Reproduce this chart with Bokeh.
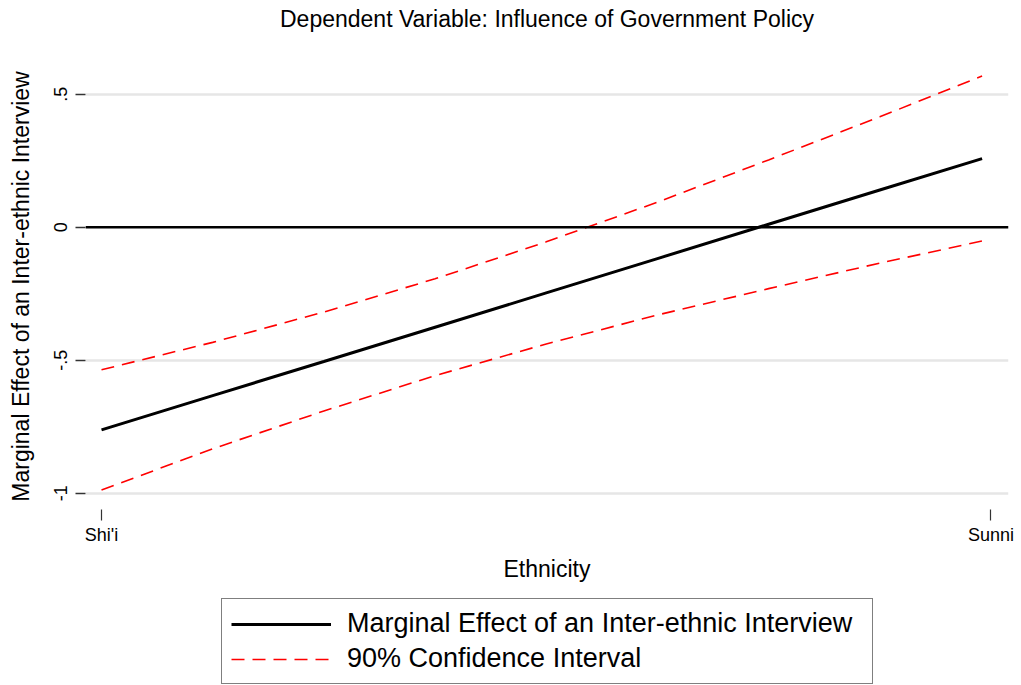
from bokeh.plotting import figure
from bokeh.models import Range1d, FixedTicker, Span, Legend, LegendItem, Title
from bokeh.layouts import column
from bokeh.embed import file_html
from bokeh.resources import INLINE

# ---- data ----
ethnicity = [0.0, 0.125, 0.25, 0.375, 0.5, 0.625, 0.75, 0.875, 0.99]
marginal_effect = [-0.762, -0.633, -0.505, -0.376, -0.247, -0.118, 0.011, 0.140, 0.258]
ci_upper = [-0.536, -0.433, -0.319, -0.194, -0.055, 0.094, 0.253, 0.415, 0.568]
ci_lower = [-0.988, -0.833, -0.691, -0.558, -0.439, -0.330, -0.231, -0.135, -0.052]
x_ticks = [0, 1]
x_tick_labels = ["Shi'i", "Sunni"]
y_ticks = [-1, -0.5, 0, 0.5]
y_tick_labels = ["-1", "-.5", "0", ".5"]
grid_ticks = [-1, -0.5, 0.5]
legend_labels = ["Marginal Effect of an Inter-ethnic Interview", "90% Confidence Interval"]

FONT = "Liberation Sans"
ME_STYLE = dict(line_color="black", line_width=3)
CI_STYLE = dict(line_color="#ff0000", line_width=1.6, line_dash="13 8")

p = figure(frame_width=923, frame_height=446,
           min_border_left=85, min_border_right=13, min_border_top=63, min_border_bottom=83,
           x_range=Range1d(-0.018, 1.0197), y_range=Range1d(-1.0613, 0.6154),
           output_backend="svg", toolbar_location=None,
           background_fill_color="white", border_fill_color="white")
p.outline_line_color = None

# spacer between frame and title (pushes the title up)
p.add_layout(Title(text=" ", text_font_size="1px", standoff=27), "above")

# title
p.title.text = "Dependent Variable: Influence of Government Policy"
p.title.align = "center"
p.title.text_font = FONT
p.title.text_font_size = "23px"
p.title.text_font_style = "normal"
p.title.text_color = "black"
p.title.standoff = 4

# x axis
xa = p.xaxis[0]
xa.ticker = FixedTicker(ticks=x_ticks)
xa.major_label_overrides = {t: l for t, l in zip(x_ticks, x_tick_labels)}
xa.axis_line_color = None
xa.minor_tick_line_color = None
xa.major_tick_in = 0
xa.major_tick_out = 11
xa.major_tick_line_color = "#333333"
xa.major_tick_line_width = 1.2
xa.major_label_text_font = FONT
xa.major_label_text_font_size = "18px"
xa.major_label_text_color = "black"
xa.major_label_standoff = 4
xa.axis_label = "Ethnicity"
xa.axis_label_text_font = FONT
xa.axis_label_text_font_size = "23px"
xa.axis_label_text_font_style = "normal"
xa.axis_label_text_color = "black"
xa.axis_label_standoff = 8

# y axis
ya = p.yaxis[0]
ya.ticker = FixedTicker(ticks=y_ticks)
ya.major_label_overrides = {t: l for t, l in zip(y_ticks, y_tick_labels)}
ya.major_label_orientation = "vertical"
ya.axis_line_color = None
ya.minor_tick_line_color = None
ya.major_tick_in = 0
ya.major_tick_out = 10
ya.major_tick_line_color = "#333333"
ya.major_tick_line_width = 1.5
ya.major_label_text_font = FONT
ya.major_label_text_font_size = "18px"
ya.major_label_text_color = "black"
ya.major_label_standoff = 8
ya.axis_label = "Marginal Effect of an Inter-ethnic Interview"
ya.axis_label_text_font = FONT
ya.axis_label_text_font_size = "23px"
ya.axis_label_text_font_style = "normal"
ya.axis_label_text_color = "black"
ya.axis_label_standoff = 18

# grid
p.xgrid.visible = False
p.ygrid.ticker = FixedTicker(ticks=grid_ticks)
p.ygrid.grid_line_color = "#e6e6e6"
p.ygrid.grid_line_width = 2.5

# zero line
p.add_layout(Span(location=0, dimension="width", line_color="black", line_width=2.5))

# lines
p.line(ethnicity, marginal_effect, **ME_STYLE)
p.line(ethnicity, ci_upper, **CI_STYLE)
p.line(ethnicity, ci_lower, **CI_STYLE)

# ---- legend strip (second figure below the plot) ----
lg = figure(frame_width=923, frame_height=93,
            min_border_left=85, min_border_right=13, min_border_top=0, min_border_bottom=0,
            x_range=Range1d(0, 1), y_range=Range1d(0, 1),
            output_backend="svg", toolbar_location=None,
            background_fill_color="white", border_fill_color="white")
lg.outline_line_color = None
lg.axis.visible = False
lg.grid.visible = False
lr_me = lg.line([0, 1], [-5, -5], **ME_STYLE)
lr_ci = lg.line([0, 1], [-5, -5], **CI_STYLE)

legend = Legend(items=[
    LegendItem(label=legend_labels[0], renderers=[lr_me]),
    LegendItem(label=legend_labels[1], renderers=[lr_ci]),
], location=(136, 1))
legend.border_line_color = "black"
legend.border_line_width = 1
legend.background_fill_color = "white"
legend.background_fill_alpha = 1
legend.label_text_font = FONT
legend.label_text_font_size = "27px"
legend.label_text_color = "black"
legend.glyph_width = 100
legend.glyph_height = 30
legend.label_height = 30
legend.label_width = 516
legend.spacing = 4
legend.padding = 9
legend.margin = 0
legend.label_standoff = 16
lg.add_layout(legend, "center")

layout = column(p, lg, spacing=0)
open("out.html", "w").write(file_html(layout, INLINE))
